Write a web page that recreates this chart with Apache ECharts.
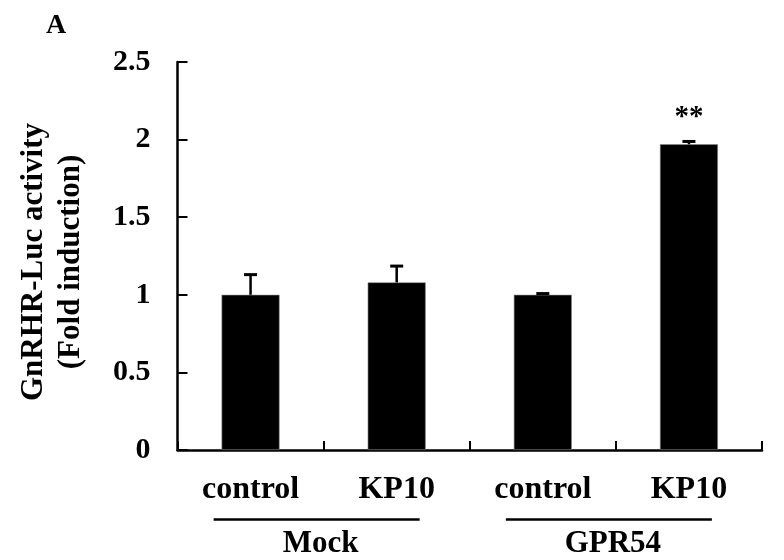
<!DOCTYPE html>
<html>
<head>
<meta charset="utf-8">
<script src="https://cdn.jsdelivr.net/npm/echarts@6/dist/echarts.min.js"></script>
<style>html,body{margin:0;padding:0;background:#fff;}#c{width:784px;height:560px;}</style>
</head>
<body>
<div id="c"></div>
<script>
var categories = ['control', 'KP10', 'control', 'KP10'];
var values = [1.0, 1.08, 1.0, 1.97];
var errors = [0.13, 0.105, 0.008, 0.018];
var significance = ['', '', '', '**'];
var groups = ['Mock', 'GPR54'];
var groupMembers = [[0, 1], [2, 3]];
var yTicks = [0, 0.5, 1, 1.5, 2, 2.5];

var FONT = '"Liberation Serif", "Times New Roman", serif';
var chart = echarts.init(document.getElementById('c'), null, {renderer: 'canvas'});

var barData = values.map(function (v, i) {
  var item = {value: v};
  if (significance[i]) {
    item.label = {show: true, formatter: significance[i], position: 'top', distance: 12,
      fontFamily: FONT, fontWeight: 'bold', fontSize: 29, color: '#000'};
  }
  return item;
});

var option = {
  animation: false,
  backgroundColor: '#fff',
  grid: {left: 177.5, right: 22, top: 62, bottom: 110},
  title: {text: 'A', left: 41, top: 7,
    textStyle: {fontFamily: FONT, fontWeight: 'bold', fontSize: 28, color: '#000'}},
  xAxis: {
    type: 'category', data: categories,
    axisLine: {lineStyle: {color: '#000', width: 2.5}},
    axisTick: {show: true, inside: true, length: 9, lineStyle: {color: '#000', width: 2}},
    axisLabel: {margin: 24, fontFamily: FONT, fontWeight: 'bold', fontSize: 32, color: '#000'},
    splitLine: {show: false}
  },
  yAxis: {
    type: 'value', min: yTicks[0], max: yTicks[yTicks.length - 1], interval: 0.5,
    name: 'GnRHR-Luc activity\n(Fold induction)', nameLocation: 'middle', nameRotate: 90, nameGap: 88,
    nameTextStyle: {fontFamily: FONT, fontWeight: 'bold', fontSize: 31, lineHeight: 37, color: '#000',
      padding: [0, 12, 0, 0]},
    axisLine: {show: true, lineStyle: {color: '#000', width: 2.5}},
    axisTick: {show: true, inside: true, length: 10, lineStyle: {color: '#000', width: 2}},
    axisLabel: {margin: 27, fontFamily: FONT, fontWeight: 'bold', fontSize: 30, color: '#000',
      formatter: function (v) { return String(v); }},
    splitLine: {show: false}
  },
  series: [
    {
      type: 'bar', data: barData, barWidth: 58,
      itemStyle: {color: '#000', borderColor: '#888', borderWidth: 0.6},
      label: {show: false}
    },
    {
      type: 'custom',
      data: values.map(function (v, i) { return [i, v, v + errors[i]]; }),
      renderItem: function (params, api) {
        var base = api.coord([api.value(0), api.value(1)]);
        var top = api.coord([api.value(0), api.value(2)]);
        var hw = 6.5;
        return {
          type: 'group',
          children: [
            {type: 'line', shape: {x1: base[0], y1: base[1], x2: top[0], y2: top[1]},
              style: {stroke: '#000', lineWidth: 2.5}},
            {type: 'line', shape: {x1: top[0] - hw, y1: top[1], x2: top[0] + hw, y2: top[1]},
              style: {stroke: '#000', lineWidth: 3}}
          ]
        };
      },
      z: 5
    }
  ]
};
chart.setOption(option);

function drawGroups() {
  var y0 = chart.convertToPixel({yAxisIndex: 0}, 0);
  var els = [];
  groups.forEach(function (g, gi) {
    var m = groupMembers[gi];
    var a = chart.convertToPixel({xAxisIndex: 0}, m[0]);
    var b = chart.convertToPixel({xAxisIndex: 0}, m[m.length - 1]);
    var mid = (a + b) / 2;
    els.push({type: 'line', shape: {x1: mid - 110, y1: y0 + 69.5, x2: mid + 96, y2: y0 + 69.5},
      style: {stroke: '#000', lineWidth: 2.5}});
    els.push({type: 'text', x: mid - 3, y: y0 + 94,
      style: {text: g, fill: '#000', font: 'bold 31px ' + FONT, align: 'center', verticalAlign: 'middle'}});
  });
  chart.setOption({graphic: els});
}
drawGroups();
</script>
</body>
</html>
